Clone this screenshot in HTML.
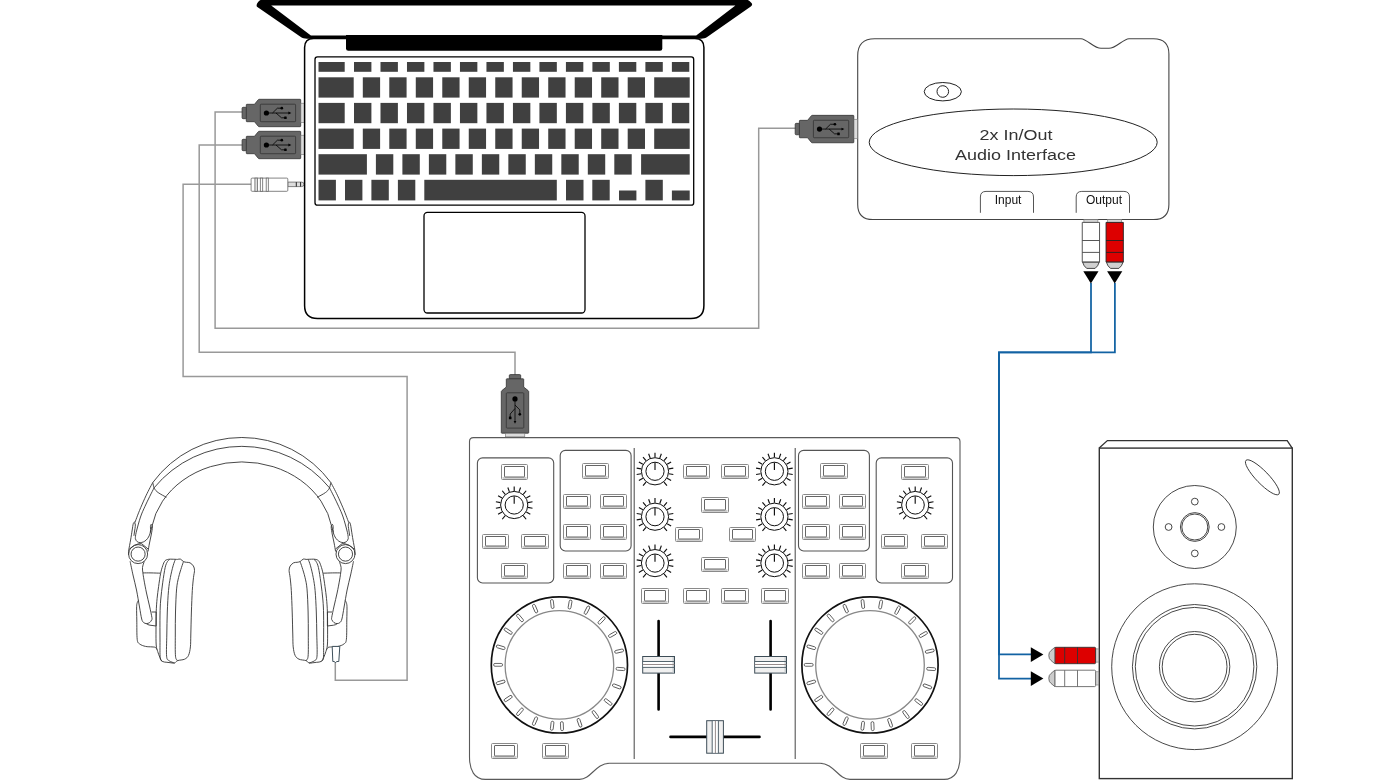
<!DOCTYPE html><html><head><meta charset="utf-8"><style>html,body{margin:0;padding:0;background:#fff}body{width:1380px;height:780px;overflow:hidden}svg{display:block}svg text{font-family:"Liberation Sans",sans-serif}svg{will-change:transform}</style></head><body>
<svg width="1380" height="780" viewBox="0 0 1380 780" font-family="&quot;Liberation Sans&quot;, sans-serif">
<g fill="none" stroke="#999" stroke-width="1.5">
<path d="M243,112 L215.1,112 L215.1,328.2 L758.7,328.2 L758.7,128.3 L796,128.3"/>
<path d="M243,145 L199.2,145 L199.2,352.3 L515,352.3 L515,376"/>
<path d="M252,184.3 L183.1,184.3 L183.1,376.4 L407.1,376.4 L407.1,680.3 L335.3,680.3 L335.3,662"/>
</g>
<g fill="none" stroke="#1262a3" stroke-width="1.75">
<path d="M1091,283 L1091,352.4 L999,352.4 L999,654.4 L1031,654.4"/>
<path d="M1114.9,283 L1114.9,352.4 L999,352.4 L999,678.5 L1031,678.5"/>
</g>
<g transform="translate(300.7,113) rotate(0)"><rect x="-58.6" y="-5.7" width="4.6" height="11.4" rx="1" fill="#666" stroke="#333" stroke-width="0.8"/><path d="M-54.4,-8.1 Q-54.4,-8.7 -53.8,-8.7 L-46.2,-8.7 L-42.6,-13.1 Q-42.2,-13.7 -41.6,-13.7 L-0.6,-13.7 Q0,-13.7 0,-13.1 L0,13.1 Q0,13.7 -0.6,13.7 L-41.6,13.7 Q-42.2,13.7 -42.6,13.1 L-46.2,8.7 L-53.8,8.7 Q-54.4,8.7 -54.4,8.1 Z" fill="#666" stroke="#333" stroke-width="0.8"/><rect x="-40.4" y="-8.8" width="35.3" height="17.5" rx="0.8" fill="#666" stroke="#333" stroke-width="0.8"/><rect x="0.2" y="-9.8" width="3.4" height="19.5" fill="#ddd" stroke="#777" stroke-width="0.6"/><circle cx="-34.3" cy="0" r="2.6" fill="#000"/><path d="M-34.3,0 L-11.5,0 M-28.2,0 L-23.3,-4.8 L-19.5,-4.8 M-24.7,0 L-19.2,4.8 L-16.2,4.8" fill="none" stroke="#000" stroke-width="0.8"/><circle cx="-18.9" cy="-4.8" r="1.35" fill="#000"/><rect x="-16.6" y="3.5" width="2.6" height="2.6" rx="0.5" fill="#000"/><path d="M-12.3,-1.4 L-9.4,0 L-12.3,1.4 Z" fill="#000"/></g>
<g transform="translate(300.7,145) rotate(0)"><rect x="-58.6" y="-5.7" width="4.6" height="11.4" rx="1" fill="#666" stroke="#333" stroke-width="0.8"/><path d="M-54.4,-8.1 Q-54.4,-8.7 -53.8,-8.7 L-46.2,-8.7 L-42.6,-13.1 Q-42.2,-13.7 -41.6,-13.7 L-0.6,-13.7 Q0,-13.7 0,-13.1 L0,13.1 Q0,13.7 -0.6,13.7 L-41.6,13.7 Q-42.2,13.7 -42.6,13.1 L-46.2,8.7 L-53.8,8.7 Q-54.4,8.7 -54.4,8.1 Z" fill="#666" stroke="#333" stroke-width="0.8"/><rect x="-40.4" y="-8.8" width="35.3" height="17.5" rx="0.8" fill="#666" stroke="#333" stroke-width="0.8"/><rect x="0.2" y="-9.8" width="3.4" height="19.5" fill="#ddd" stroke="#777" stroke-width="0.6"/><circle cx="-34.3" cy="0" r="2.6" fill="#000"/><path d="M-34.3,0 L-11.5,0 M-28.2,0 L-23.3,-4.8 L-19.5,-4.8 M-24.7,0 L-19.2,4.8 L-16.2,4.8" fill="none" stroke="#000" stroke-width="0.8"/><circle cx="-18.9" cy="-4.8" r="1.35" fill="#000"/><rect x="-16.6" y="3.5" width="2.6" height="2.6" rx="0.5" fill="#000"/><path d="M-12.3,-1.4 L-9.4,0 L-12.3,1.4 Z" fill="#000"/></g>
<g stroke="#666" stroke-width="0.8">
<path d="M287.8,182.1 L301.5,182.1 Q304,182.1 304,184.35 Q304,186.6 301.5,186.6 L287.8,186.6 Z" fill="#ddd"/>
<rect x="251.1" y="178.1" width="36.7" height="13.2" rx="1" fill="#fff"/>
<rect x="254.9" y="178.1" width="2.6" height="13.2" fill="#ddd"/>
<rect x="260.3" y="178.1" width="2.4" height="13.2" fill="#fff"/>
<rect x="266.2" y="178.1" width="2.1" height="13.2" fill="#fff"/>
</g>
<path d="M296.3,182.1 L296.3,186.6 M300.6,182.1 L300.6,186.6" stroke="#222" stroke-width="1"/>
<path fill-rule="evenodd" fill="#000" d="M257,6.8 C256,5.5 257,3 259,1 C261,-0.6 263,-1 265,-1 L744,-1 C747,-1 749,0.5 751,2.5 C752.8,4.2 752.3,5.5 750.8,6.6 L707.5,36.8 C705.5,38.2 703.5,38.7 701,38.7 L307,38.7 C304.5,38.7 302.5,38.2 300.5,36.8 Z M271.2,5.4 L735.4,5.4 L696.2,35.6 L310.9,35.6 Z"/>
<path fill="#000" d="M346,35 L662.3,35 L662.3,48.6 Q662.3,50.8 660,50.8 L348.3,50.8 Q346,50.8 346,48.6 Z"/>
<path fill="none" stroke="#000" stroke-width="1.5" d="M313.6,38.6 L694.9,38.6 Q703.9,38.6 703.9,47.6 L703.9,305.4 Q703.9,318.4 690.9,318.4 L317.6,318.4 Q304.6,318.4 304.6,305.4 L304.6,47.6 Q304.6,38.6 313.6,38.6 Z"/>
<rect x="315" y="56.9" width="378.7" height="148.3" rx="2.5" fill="none" stroke="#000" stroke-width="1.3"/>
<g fill="#404040"><rect x="318.50" y="62.00" width="26.20" height="9.80"/><rect x="354.00" y="62.00" width="17.40" height="9.80"/><rect x="380.49" y="62.00" width="17.40" height="9.80"/><rect x="406.98" y="62.00" width="17.40" height="9.80"/><rect x="433.47" y="62.00" width="17.40" height="9.80"/><rect x="459.96" y="62.00" width="17.40" height="9.80"/><rect x="486.45" y="62.00" width="17.40" height="9.80"/><rect x="512.94" y="62.00" width="17.40" height="9.80"/><rect x="539.43" y="62.00" width="17.40" height="9.80"/><rect x="565.92" y="62.00" width="17.40" height="9.80"/><rect x="592.41" y="62.00" width="17.40" height="9.80"/><rect x="618.90" y="62.00" width="17.40" height="9.80"/><rect x="645.39" y="62.00" width="17.40" height="9.80"/><rect x="671.88" y="62.00" width="17.40" height="9.80"/><rect x="318.50" y="77.30" width="35.20" height="20.30"/><rect x="362.80" y="77.30" width="17.30" height="20.30"/><rect x="389.29" y="77.30" width="17.30" height="20.30"/><rect x="415.78" y="77.30" width="17.30" height="20.30"/><rect x="442.27" y="77.30" width="17.30" height="20.30"/><rect x="468.76" y="77.30" width="17.30" height="20.30"/><rect x="495.25" y="77.30" width="17.30" height="20.30"/><rect x="521.74" y="77.30" width="17.30" height="20.30"/><rect x="548.23" y="77.30" width="17.30" height="20.30"/><rect x="574.72" y="77.30" width="17.30" height="20.30"/><rect x="601.21" y="77.30" width="17.30" height="20.30"/><rect x="627.70" y="77.30" width="17.30" height="20.30"/><rect x="654.20" y="77.30" width="35.50" height="20.30"/><rect x="318.50" y="102.90" width="26.20" height="20.30"/><rect x="354.00" y="102.90" width="17.40" height="20.30"/><rect x="380.49" y="102.90" width="17.40" height="20.30"/><rect x="406.98" y="102.90" width="17.40" height="20.30"/><rect x="433.47" y="102.90" width="17.40" height="20.30"/><rect x="459.96" y="102.90" width="17.40" height="20.30"/><rect x="486.45" y="102.90" width="17.40" height="20.30"/><rect x="512.94" y="102.90" width="17.40" height="20.30"/><rect x="539.43" y="102.90" width="17.40" height="20.30"/><rect x="565.92" y="102.90" width="17.40" height="20.30"/><rect x="592.41" y="102.90" width="17.40" height="20.30"/><rect x="618.90" y="102.90" width="17.40" height="20.30"/><rect x="645.39" y="102.90" width="17.40" height="20.30"/><rect x="671.88" y="102.90" width="17.40" height="20.30"/><rect x="318.50" y="128.60" width="35.20" height="20.30"/><rect x="362.80" y="128.60" width="17.30" height="20.30"/><rect x="389.29" y="128.60" width="17.30" height="20.30"/><rect x="415.78" y="128.60" width="17.30" height="20.30"/><rect x="442.27" y="128.60" width="17.30" height="20.30"/><rect x="468.76" y="128.60" width="17.30" height="20.30"/><rect x="495.25" y="128.60" width="17.30" height="20.30"/><rect x="521.74" y="128.60" width="17.30" height="20.30"/><rect x="548.23" y="128.60" width="17.30" height="20.30"/><rect x="574.72" y="128.60" width="17.30" height="20.30"/><rect x="601.21" y="128.60" width="17.30" height="20.30"/><rect x="627.70" y="128.60" width="17.30" height="20.30"/><rect x="654.20" y="128.60" width="35.50" height="20.30"/><rect x="318.50" y="154.20" width="48.40" height="20.40"/><rect x="375.90" y="154.20" width="17.40" height="20.40"/><rect x="402.39" y="154.20" width="17.40" height="20.40"/><rect x="428.88" y="154.20" width="17.40" height="20.40"/><rect x="455.37" y="154.20" width="17.40" height="20.40"/><rect x="481.86" y="154.20" width="17.40" height="20.40"/><rect x="508.35" y="154.20" width="17.40" height="20.40"/><rect x="534.84" y="154.20" width="17.40" height="20.40"/><rect x="561.33" y="154.20" width="17.40" height="20.40"/><rect x="587.82" y="154.20" width="17.40" height="20.40"/><rect x="614.31" y="154.20" width="17.40" height="20.40"/><rect x="641.10" y="154.20" width="48.60" height="20.40"/><rect x="318.50" y="179.80" width="17.40" height="20.60"/><rect x="345.00" y="179.80" width="17.40" height="20.60"/><rect x="371.40" y="179.80" width="17.40" height="20.60"/><rect x="397.90" y="179.80" width="17.40" height="20.60"/><rect x="424.30" y="179.80" width="132.50" height="20.60"/><rect x="566.00" y="179.80" width="17.50" height="20.60"/><rect x="592.30" y="179.80" width="17.40" height="20.60"/><rect x="619.00" y="190.50" width="17.40" height="9.90"/><rect x="645.40" y="179.80" width="17.40" height="20.60"/><rect x="671.90" y="190.50" width="17.80" height="9.90"/></g>
<rect x="424" y="212.4" width="161" height="100.6" rx="3.5" fill="none" stroke="#000" stroke-width="1.3"/>
<path fill="#fff" stroke="#444" stroke-width="1.1" d="M874.7,38.7 L1081,38.7 C1087,39 1094,48.3 1101,48.3 L1109,48.3 C1116,48.3 1123,39 1129,38.7 L1153.5,38.7 Q1168.9,38.7 1168.9,54 L1168.9,204.4 Q1168.9,219.5 1153.5,219.5 L873,219.5 Q857.7,219.5 857.7,204.4 L857.7,55.7 Q857.7,38.7 874.7,38.7 Z"/>
<ellipse cx="942.8" cy="91.7" rx="18.6" ry="9.2" fill="none" stroke="#222" stroke-width="1"/>
<circle cx="942.8" cy="91.5" r="5.8" fill="none" stroke="#222" stroke-width="1"/>
<ellipse cx="1013.2" cy="142.3" rx="144" ry="33.3" fill="none" stroke="#222" stroke-width="1"/>
<text x="1016" y="139.8" font-size="15.2" fill="#333" text-anchor="middle" textLength="72.8" lengthAdjust="spacingAndGlyphs">2x In/Out</text>
<text x="1015.5" y="159.8" font-size="15.2" fill="#333" text-anchor="middle" textLength="120.8" lengthAdjust="spacingAndGlyphs">Audio Interface</text>
<path d="M980.4,212.8 L980.4,197 Q980.4,191.4 986,191.4 L1027.9,191.4 Q1033.5,191.4 1033.5,197 L1033.5,212.8 M1076.2,212.8 L1076.2,197 Q1076.2,191.4 1081.8,191.4 L1123.9,191.4 Q1129.5,191.4 1129.5,197 L1129.5,212.8" fill="none" stroke="#555" stroke-width="1"/>
<text x="1008.1" y="203.6" font-size="12" fill="#111" text-anchor="middle">Input</text>
<text x="1104" y="203.6" font-size="12" fill="#111" text-anchor="middle">Output</text>
<g transform="translate(853.8,129.05) rotate(0)"><rect x="-58.6" y="-5.7" width="4.6" height="11.4" rx="1" fill="#666" stroke="#333" stroke-width="0.8"/><path d="M-54.4,-8.1 Q-54.4,-8.7 -53.8,-8.7 L-46.2,-8.7 L-42.6,-13.1 Q-42.2,-13.7 -41.6,-13.7 L-0.6,-13.7 Q0,-13.7 0,-13.1 L0,13.1 Q0,13.7 -0.6,13.7 L-41.6,13.7 Q-42.2,13.7 -42.6,13.1 L-46.2,8.7 L-53.8,8.7 Q-54.4,8.7 -54.4,8.1 Z" fill="#666" stroke="#333" stroke-width="0.8"/><rect x="-40.4" y="-8.8" width="35.3" height="17.5" rx="0.8" fill="#666" stroke="#333" stroke-width="0.8"/><rect x="0.2" y="-9.8" width="3.4" height="19.5" fill="#ddd" stroke="#777" stroke-width="0.6"/><circle cx="-34.3" cy="0" r="2.6" fill="#000"/><path d="M-34.3,0 L-11.5,0 M-28.2,0 L-23.3,-4.8 L-19.5,-4.8 M-24.7,0 L-19.2,4.8 L-16.2,4.8" fill="none" stroke="#000" stroke-width="0.8"/><circle cx="-18.9" cy="-4.8" r="1.35" fill="#000"/><rect x="-16.6" y="3.5" width="2.6" height="2.6" rx="0.5" fill="#000"/><path d="M-12.3,-1.4 L-9.4,0 L-12.3,1.4 Z" fill="#000"/></g>
<rect x="1083.9" y="219.6" width="14" height="2.8" fill="#d4d4d4" stroke="#777" stroke-width="0.6"/><path d="M1082.25,222.4 L1099.55,222.4 L1099.55,262.1 L1082.25,262.1 Z" fill="#fff" stroke="#444" stroke-width="0.9"/><path d="M1082.25,240.5 L1099.55,240.5 M1082.25,252.4 L1099.55,252.4" stroke="#444" stroke-width="0.9"/><path d="M1082.60,262.2 L1099.20,262.2 Q1098.10,266.2 1095.10,268.4 L1086.70,268.4 Q1083.70,266.2 1082.60,262.2 Z" fill="#d0d0d0" stroke="#333" stroke-width="0.9" stroke-linejoin="round"/><path d="M1083.30,271.3 L1098.50,271.3 L1090.90,283.5 Z" fill="#000"/>
<rect x="1107.7" y="219.6" width="14" height="2.8" fill="#d4d4d4" stroke="#777" stroke-width="0.6"/><path d="M1106.05,222.4 L1123.35,222.4 L1123.35,262.1 L1106.05,262.1 Z" fill="#dd0000" stroke="#222" stroke-width="0.9"/><path d="M1106.05,240.5 L1123.35,240.5 M1106.05,252.4 L1123.35,252.4" stroke="#222" stroke-width="0.9"/><path d="M1106.40,262.2 L1123.00,262.2 Q1121.90,266.2 1118.90,268.4 L1110.50,268.4 Q1107.50,266.2 1106.40,262.2 Z" fill="#d0d0d0" stroke="#333" stroke-width="0.9" stroke-linejoin="round"/><path d="M1107.10,271.3 L1122.30,271.3 L1114.70,283.5 Z" fill="#000"/>
<path d="M1099.2,448.1 L1107.4,440.6 L1287.2,440.6 L1292.2,448.1" fill="none" stroke="#333" stroke-width="1.3"/>
<rect x="1099.3" y="448.1" width="193" height="330.5" fill="#fff" stroke="#333" stroke-width="1.4"/>
<g fill="none" stroke="#333" stroke-width="0.9">
<ellipse cx="1262.4" cy="477.3" rx="23.6" ry="6.2" transform="rotate(46 1262.4 477.3)"/>
<circle cx="1194.8" cy="527" r="41.5"/>
<circle cx="1194.8" cy="527" r="14.4"/><circle cx="1194.8" cy="527" r="13"/>
<circle cx="1194.8" cy="501.6" r="3.4"/><circle cx="1194.8" cy="553.4" r="3.4"/><circle cx="1168.6" cy="527" r="3.4"/><circle cx="1221.4" cy="527" r="3.4"/>
<circle cx="1194.6" cy="666.7" r="82.9"/>
<circle cx="1194.6" cy="666.7" r="62.2"/><circle cx="1194.6" cy="666.7" r="59.3"/>
<circle cx="1194.6" cy="666.7" r="35.2"/><circle cx="1194.6" cy="666.7" r="32.4"/>
</g>
<rect x="1095.6" y="648.9" width="3.2" height="13.2" fill="#d4d4d4" stroke="#777" stroke-width="0.6"/><rect x="1054.8" y="647.3" width="40.8" height="16.4" rx="1" fill="#dd0000" stroke="#333" stroke-width="0.9"/><path d="M1064.7,647.3 L1064.7,663.7 M1077.5,647.3 L1077.5,663.7" stroke="#333" stroke-width="0.9"/><path d="M1054.8,647.3 L1054.8,663.7 L1051,660.5 Q1048.8,659.0 1048.8,655.5 Q1048.8,652.0 1051,650.5 Z" fill="#ccc" stroke="#555" stroke-width="0.8"/><path d="M1030.8,647.3 L1043.4,654.6 L1030.8,661.9 Z" fill="#000"/>
<rect x="1095.6" y="671.8" width="3.2" height="13.2" fill="#d4d4d4" stroke="#777" stroke-width="0.6"/><rect x="1054.8" y="670.2" width="40.8" height="16.4" rx="1" fill="#fff" stroke="#666" stroke-width="0.9"/><path d="M1064.7,670.2 L1064.7,686.6 M1077.5,670.2 L1077.5,686.6" stroke="#666" stroke-width="0.9"/><path d="M1054.8,670.2 L1054.8,686.6 L1051,683.4 Q1048.8,681.9 1048.8,678.4 Q1048.8,674.9 1051,673.4 Z" fill="#ccc" stroke="#555" stroke-width="0.8"/><path d="M1030.8,671.3 L1043.4,678.6 L1030.8,685.9 Z" fill="#000"/>
<path fill="#fff" stroke="#5a5a5a" stroke-width="1.1" d="M473.5,437.6 L956,437.6 Q960,437.6 960,441.6 L960,757 C960,770 955,779.4 944,779.4 L850,779.4 C838,779.4 834,763.2 820,763.2 L609.4,763.2 C595.4,763.2 591.4,779.4 579.4,779.4 L485.4,779.4 C474.4,779.4 469.5,770 469.5,757 L469.5,441.6 Q469.5,437.6 473.5,437.6 Z"/>
<path d="M634.2,448 L634.2,759 M795.2,448 L795.2,759" stroke="#555" stroke-width="1.1"/>
<g fill="none" stroke="#555" stroke-width="1.1">
<rect x="477.4" y="457.9" width="76.3" height="125.1" rx="5.2"/>
<rect x="560.2" y="450.4" width="70.9" height="100.6" rx="5.2"/>
<rect x="798.5" y="450.4" width="70.9" height="100.6" rx="5.2"/>
<rect x="876.2" y="457.9" width="76.3" height="125.1" rx="5.2"/>
</g>
<rect x="501.5" y="464.5" width="26.0" height="15.0" rx="1" fill="#fff" stroke="#8a8a8a" stroke-width="1"/><rect x="502.5" y="477.0" width="24.0" height="2" fill="#cfcfcf"/><rect x="504.5" y="466.5" width="20.0" height="10.5" rx="0.5" fill="#fff" stroke="#555" stroke-width="0.9"/><rect x="482.5" y="534.5" width="26.0" height="14.0" rx="1" fill="#fff" stroke="#8a8a8a" stroke-width="1"/><rect x="483.5" y="546.0" width="24.0" height="2" fill="#cfcfcf"/><rect x="485.5" y="536.5" width="20.0" height="9.5" rx="0.5" fill="#fff" stroke="#555" stroke-width="0.9"/><rect x="521.5" y="534.5" width="27.0" height="14.0" rx="1" fill="#fff" stroke="#8a8a8a" stroke-width="1"/><rect x="522.5" y="546.0" width="25.0" height="2" fill="#cfcfcf"/><rect x="524.5" y="536.5" width="21.0" height="9.5" rx="0.5" fill="#fff" stroke="#555" stroke-width="0.9"/><rect x="501.5" y="563.5" width="26.0" height="15.0" rx="1" fill="#fff" stroke="#8a8a8a" stroke-width="1"/><rect x="502.5" y="576.0" width="24.0" height="2" fill="#cfcfcf"/><rect x="504.5" y="565.5" width="20.0" height="10.5" rx="0.5" fill="#fff" stroke="#555" stroke-width="0.9"/><rect x="582.5" y="463.5" width="26.0" height="15.0" rx="1" fill="#fff" stroke="#8a8a8a" stroke-width="1"/><rect x="583.5" y="476.0" width="24.0" height="2" fill="#cfcfcf"/><rect x="585.5" y="465.5" width="20.0" height="10.5" rx="0.5" fill="#fff" stroke="#555" stroke-width="0.9"/><rect x="563.5" y="494.5" width="27.0" height="14.0" rx="1" fill="#fff" stroke="#8a8a8a" stroke-width="1"/><rect x="564.5" y="506.0" width="25.0" height="2" fill="#cfcfcf"/><rect x="566.5" y="496.5" width="21.0" height="9.5" rx="0.5" fill="#fff" stroke="#555" stroke-width="0.9"/><rect x="600.5" y="494.5" width="26.0" height="14.0" rx="1" fill="#fff" stroke="#8a8a8a" stroke-width="1"/><rect x="601.5" y="506.0" width="24.0" height="2" fill="#cfcfcf"/><rect x="603.5" y="496.5" width="20.0" height="9.5" rx="0.5" fill="#fff" stroke="#555" stroke-width="0.9"/><rect x="563.5" y="524.5" width="27.0" height="15.0" rx="1" fill="#fff" stroke="#8a8a8a" stroke-width="1"/><rect x="564.5" y="537.0" width="25.0" height="2" fill="#cfcfcf"/><rect x="566.5" y="526.5" width="21.0" height="10.5" rx="0.5" fill="#fff" stroke="#555" stroke-width="0.9"/><rect x="600.5" y="524.5" width="26.0" height="15.0" rx="1" fill="#fff" stroke="#8a8a8a" stroke-width="1"/><rect x="601.5" y="537.0" width="24.0" height="2" fill="#cfcfcf"/><rect x="603.5" y="526.5" width="20.0" height="10.5" rx="0.5" fill="#fff" stroke="#555" stroke-width="0.9"/><rect x="563.5" y="563.5" width="27.0" height="15.0" rx="1" fill="#fff" stroke="#8a8a8a" stroke-width="1"/><rect x="564.5" y="576.0" width="25.0" height="2" fill="#cfcfcf"/><rect x="566.5" y="565.5" width="21.0" height="10.5" rx="0.5" fill="#fff" stroke="#555" stroke-width="0.9"/><rect x="600.5" y="563.5" width="26.0" height="15.0" rx="1" fill="#fff" stroke="#8a8a8a" stroke-width="1"/><rect x="601.5" y="576.0" width="24.0" height="2" fill="#cfcfcf"/><rect x="603.5" y="565.5" width="20.0" height="10.5" rx="0.5" fill="#fff" stroke="#555" stroke-width="0.9"/><rect x="683.5" y="464.5" width="26.0" height="14.0" rx="1" fill="#fff" stroke="#8a8a8a" stroke-width="1"/><rect x="684.5" y="476.0" width="24.0" height="2" fill="#cfcfcf"/><rect x="686.5" y="466.5" width="20.0" height="9.5" rx="0.5" fill="#fff" stroke="#555" stroke-width="0.9"/><rect x="721.5" y="464.5" width="27.0" height="14.0" rx="1" fill="#fff" stroke="#8a8a8a" stroke-width="1"/><rect x="722.5" y="476.0" width="25.0" height="2" fill="#cfcfcf"/><rect x="724.5" y="466.5" width="21.0" height="9.5" rx="0.5" fill="#fff" stroke="#555" stroke-width="0.9"/><rect x="701.5" y="497.5" width="27.0" height="15.0" rx="1" fill="#fff" stroke="#8a8a8a" stroke-width="1"/><rect x="702.5" y="510.0" width="25.0" height="2" fill="#cfcfcf"/><rect x="704.5" y="499.5" width="21.0" height="10.5" rx="0.5" fill="#fff" stroke="#555" stroke-width="0.9"/><rect x="675.5" y="527.5" width="27.0" height="14.0" rx="1" fill="#fff" stroke="#8a8a8a" stroke-width="1"/><rect x="676.5" y="539.0" width="25.0" height="2" fill="#cfcfcf"/><rect x="678.5" y="529.5" width="21.0" height="9.5" rx="0.5" fill="#fff" stroke="#555" stroke-width="0.9"/><rect x="729.5" y="527.5" width="26.0" height="14.0" rx="1" fill="#fff" stroke="#8a8a8a" stroke-width="1"/><rect x="730.5" y="539.0" width="24.0" height="2" fill="#cfcfcf"/><rect x="732.5" y="529.5" width="20.0" height="9.5" rx="0.5" fill="#fff" stroke="#555" stroke-width="0.9"/><rect x="701.5" y="557.5" width="27.0" height="14.0" rx="1" fill="#fff" stroke="#8a8a8a" stroke-width="1"/><rect x="702.5" y="569.0" width="25.0" height="2" fill="#cfcfcf"/><rect x="704.5" y="559.5" width="21.0" height="9.5" rx="0.5" fill="#fff" stroke="#555" stroke-width="0.9"/><rect x="641.5" y="588.5" width="27.0" height="15.0" rx="1" fill="#fff" stroke="#8a8a8a" stroke-width="1"/><rect x="642.5" y="601.0" width="25.0" height="2" fill="#cfcfcf"/><rect x="644.5" y="590.5" width="21.0" height="10.5" rx="0.5" fill="#fff" stroke="#555" stroke-width="0.9"/><rect x="683.5" y="588.5" width="26.0" height="15.0" rx="1" fill="#fff" stroke="#8a8a8a" stroke-width="1"/><rect x="684.5" y="601.0" width="24.0" height="2" fill="#cfcfcf"/><rect x="686.5" y="590.5" width="20.0" height="10.5" rx="0.5" fill="#fff" stroke="#555" stroke-width="0.9"/><rect x="721.5" y="588.5" width="27.0" height="15.0" rx="1" fill="#fff" stroke="#8a8a8a" stroke-width="1"/><rect x="722.5" y="601.0" width="25.0" height="2" fill="#cfcfcf"/><rect x="724.5" y="590.5" width="21.0" height="10.5" rx="0.5" fill="#fff" stroke="#555" stroke-width="0.9"/><rect x="761.5" y="588.5" width="27.0" height="15.0" rx="1" fill="#fff" stroke="#8a8a8a" stroke-width="1"/><rect x="762.5" y="601.0" width="25.0" height="2" fill="#cfcfcf"/><rect x="764.5" y="590.5" width="21.0" height="10.5" rx="0.5" fill="#fff" stroke="#555" stroke-width="0.9"/><rect x="491.5" y="743.5" width="26.0" height="15.0" rx="1" fill="#fff" stroke="#8a8a8a" stroke-width="1"/><rect x="492.5" y="756.0" width="24.0" height="2" fill="#cfcfcf"/><rect x="494.5" y="745.5" width="20.0" height="10.5" rx="0.5" fill="#fff" stroke="#555" stroke-width="0.9"/><rect x="542.5" y="743.5" width="26.0" height="15.0" rx="1" fill="#fff" stroke="#8a8a8a" stroke-width="1"/><rect x="543.5" y="756.0" width="24.0" height="2" fill="#cfcfcf"/><rect x="545.5" y="745.5" width="20.0" height="10.5" rx="0.5" fill="#fff" stroke="#555" stroke-width="0.9"/><rect x="860.5" y="743.5" width="27.0" height="15.0" rx="1" fill="#fff" stroke="#8a8a8a" stroke-width="1"/><rect x="861.5" y="756.0" width="25.0" height="2" fill="#cfcfcf"/><rect x="863.5" y="745.5" width="21.0" height="10.5" rx="0.5" fill="#fff" stroke="#555" stroke-width="0.9"/><rect x="911.5" y="743.5" width="26.0" height="15.0" rx="1" fill="#fff" stroke="#8a8a8a" stroke-width="1"/><rect x="912.5" y="756.0" width="24.0" height="2" fill="#cfcfcf"/><rect x="914.5" y="745.5" width="20.0" height="10.5" rx="0.5" fill="#fff" stroke="#555" stroke-width="0.9"/><rect x="901.5" y="464.5" width="27.0" height="15.0" rx="1" fill="#fff" stroke="#8a8a8a" stroke-width="1"/><rect x="902.5" y="477.0" width="25.0" height="2" fill="#cfcfcf"/><rect x="904.5" y="466.5" width="21.0" height="10.5" rx="0.5" fill="#fff" stroke="#555" stroke-width="0.9"/><rect x="921.5" y="534.5" width="26.0" height="14.0" rx="1" fill="#fff" stroke="#8a8a8a" stroke-width="1"/><rect x="922.5" y="546.0" width="24.0" height="2" fill="#cfcfcf"/><rect x="924.5" y="536.5" width="20.0" height="9.5" rx="0.5" fill="#fff" stroke="#555" stroke-width="0.9"/><rect x="881.5" y="534.5" width="26.0" height="14.0" rx="1" fill="#fff" stroke="#8a8a8a" stroke-width="1"/><rect x="882.5" y="546.0" width="24.0" height="2" fill="#cfcfcf"/><rect x="884.5" y="536.5" width="20.0" height="9.5" rx="0.5" fill="#fff" stroke="#555" stroke-width="0.9"/><rect x="901.5" y="563.5" width="27.0" height="15.0" rx="1" fill="#fff" stroke="#8a8a8a" stroke-width="1"/><rect x="902.5" y="576.0" width="25.0" height="2" fill="#cfcfcf"/><rect x="904.5" y="565.5" width="21.0" height="10.5" rx="0.5" fill="#fff" stroke="#555" stroke-width="0.9"/><rect x="820.5" y="463.5" width="27.0" height="15.0" rx="1" fill="#fff" stroke="#8a8a8a" stroke-width="1"/><rect x="821.5" y="476.0" width="25.0" height="2" fill="#cfcfcf"/><rect x="823.5" y="465.5" width="21.0" height="10.5" rx="0.5" fill="#fff" stroke="#555" stroke-width="0.9"/><rect x="839.5" y="494.5" width="26.0" height="14.0" rx="1" fill="#fff" stroke="#8a8a8a" stroke-width="1"/><rect x="840.5" y="506.0" width="24.0" height="2" fill="#cfcfcf"/><rect x="842.5" y="496.5" width="20.0" height="9.5" rx="0.5" fill="#fff" stroke="#555" stroke-width="0.9"/><rect x="802.5" y="494.5" width="27.0" height="14.0" rx="1" fill="#fff" stroke="#8a8a8a" stroke-width="1"/><rect x="803.5" y="506.0" width="25.0" height="2" fill="#cfcfcf"/><rect x="805.5" y="496.5" width="21.0" height="9.5" rx="0.5" fill="#fff" stroke="#555" stroke-width="0.9"/><rect x="839.5" y="524.5" width="26.0" height="15.0" rx="1" fill="#fff" stroke="#8a8a8a" stroke-width="1"/><rect x="840.5" y="537.0" width="24.0" height="2" fill="#cfcfcf"/><rect x="842.5" y="526.5" width="20.0" height="10.5" rx="0.5" fill="#fff" stroke="#555" stroke-width="0.9"/><rect x="802.5" y="524.5" width="27.0" height="15.0" rx="1" fill="#fff" stroke="#8a8a8a" stroke-width="1"/><rect x="803.5" y="537.0" width="25.0" height="2" fill="#cfcfcf"/><rect x="805.5" y="526.5" width="21.0" height="10.5" rx="0.5" fill="#fff" stroke="#555" stroke-width="0.9"/><rect x="839.5" y="563.5" width="26.0" height="15.0" rx="1" fill="#fff" stroke="#8a8a8a" stroke-width="1"/><rect x="840.5" y="576.0" width="24.0" height="2" fill="#cfcfcf"/><rect x="842.5" y="565.5" width="20.0" height="10.5" rx="0.5" fill="#fff" stroke="#555" stroke-width="0.9"/><rect x="802.5" y="563.5" width="27.0" height="15.0" rx="1" fill="#fff" stroke="#8a8a8a" stroke-width="1"/><rect x="803.5" y="576.0" width="25.0" height="2" fill="#cfcfcf"/><rect x="805.5" y="565.5" width="21.0" height="10.5" rx="0.5" fill="#fff" stroke="#555" stroke-width="0.9"/>
<circle cx="514.2" cy="505.0" r="13.6" fill="#fff" stroke="#111" stroke-width="1"/><circle cx="514.2" cy="505.0" r="9.1" fill="#fff" stroke="#111" stroke-width="1"/><path d="M505.20,515.72 L502.24,519.25 M502.08,512.00 L498.09,514.30 M500.41,507.43 L495.88,508.23 M500.41,502.57 L495.88,501.77 M502.08,498.00 L498.09,495.70 M505.20,494.28 L502.24,490.75 M509.41,491.84 L507.84,487.52 M514.20,491.00 L514.20,486.40 M518.99,491.84 L520.56,487.52 M523.20,494.28 L526.16,490.75 M526.32,498.00 L530.31,495.70 M527.99,502.57 L532.52,501.77 M527.99,507.43 L532.52,508.23 M526.32,512.00 L530.31,514.30 M523.20,515.72 L526.16,519.25 M514.20,496.20 L514.20,503.70" stroke="#111" stroke-width="1.15" fill="none"/>
<circle cx="915.2" cy="505.0" r="13.6" fill="#fff" stroke="#111" stroke-width="1"/><circle cx="915.2" cy="505.0" r="9.1" fill="#fff" stroke="#111" stroke-width="1"/><path d="M906.20,515.72 L903.24,519.25 M903.08,512.00 L899.09,514.30 M901.41,507.43 L896.88,508.23 M901.41,502.57 L896.88,501.77 M903.08,498.00 L899.09,495.70 M906.20,494.28 L903.24,490.75 M910.41,491.84 L908.84,487.52 M915.20,491.00 L915.20,486.40 M919.99,491.84 L921.56,487.52 M924.20,494.28 L927.16,490.75 M927.32,498.00 L931.31,495.70 M928.99,502.57 L933.52,501.77 M928.99,507.43 L933.52,508.23 M927.32,512.00 L931.31,514.30 M924.20,515.72 L927.16,519.25 M915.20,496.20 L915.20,503.70" stroke="#111" stroke-width="1.15" fill="none"/>
<circle cx="655.0" cy="471.3" r="13.6" fill="#fff" stroke="#111" stroke-width="1"/><circle cx="655.0" cy="471.3" r="9.1" fill="#fff" stroke="#111" stroke-width="1"/><path d="M646.00,482.02 L643.04,485.55 M642.88,478.30 L638.89,480.60 M641.21,473.73 L636.68,474.53 M641.21,468.87 L636.68,468.07 M642.88,464.30 L638.89,462.00 M646.00,460.58 L643.04,457.05 M650.21,458.14 L648.64,453.82 M655.00,457.30 L655.00,452.70 M659.79,458.14 L661.36,453.82 M664.00,460.58 L666.96,457.05 M667.12,464.30 L671.11,462.00 M668.79,468.87 L673.32,468.07 M668.79,473.73 L673.32,474.53 M667.12,478.30 L671.11,480.60 M664.00,482.02 L666.96,485.55 M655.00,462.50 L655.00,470.00" stroke="#111" stroke-width="1.15" fill="none"/>
<circle cx="655.0" cy="516.7" r="13.6" fill="#fff" stroke="#111" stroke-width="1"/><circle cx="655.0" cy="516.7" r="9.1" fill="#fff" stroke="#111" stroke-width="1"/><path d="M646.00,527.42 L643.04,530.95 M642.88,523.70 L638.89,526.00 M641.21,519.13 L636.68,519.93 M641.21,514.27 L636.68,513.47 M642.88,509.70 L638.89,507.40 M646.00,505.98 L643.04,502.45 M650.21,503.54 L648.64,499.22 M655.00,502.70 L655.00,498.10 M659.79,503.54 L661.36,499.22 M664.00,505.98 L666.96,502.45 M667.12,509.70 L671.11,507.40 M668.79,514.27 L673.32,513.47 M668.79,519.13 L673.32,519.93 M667.12,523.70 L671.11,526.00 M664.00,527.42 L666.96,530.95 M655.00,507.90 L655.00,515.40" stroke="#111" stroke-width="1.15" fill="none"/>
<circle cx="655.0" cy="563.1" r="13.6" fill="#fff" stroke="#111" stroke-width="1"/><circle cx="655.0" cy="563.1" r="9.1" fill="#fff" stroke="#111" stroke-width="1"/><path d="M646.00,573.82 L643.04,577.35 M642.88,570.10 L638.89,572.40 M641.21,565.53 L636.68,566.33 M641.21,560.67 L636.68,559.87 M642.88,556.10 L638.89,553.80 M646.00,552.38 L643.04,548.85 M650.21,549.94 L648.64,545.62 M655.00,549.10 L655.00,544.50 M659.79,549.94 L661.36,545.62 M664.00,552.38 L666.96,548.85 M667.12,556.10 L671.11,553.80 M668.79,560.67 L673.32,559.87 M668.79,565.53 L673.32,566.33 M667.12,570.10 L671.11,572.40 M664.00,573.82 L666.96,577.35 M655.00,554.30 L655.00,561.80" stroke="#111" stroke-width="1.15" fill="none"/>
<circle cx="774.4" cy="471.3" r="13.6" fill="#fff" stroke="#111" stroke-width="1"/><circle cx="774.4" cy="471.3" r="9.1" fill="#fff" stroke="#111" stroke-width="1"/><path d="M765.40,482.02 L762.44,485.55 M762.28,478.30 L758.29,480.60 M760.61,473.73 L756.08,474.53 M760.61,468.87 L756.08,468.07 M762.28,464.30 L758.29,462.00 M765.40,460.58 L762.44,457.05 M769.61,458.14 L768.04,453.82 M774.40,457.30 L774.40,452.70 M779.19,458.14 L780.76,453.82 M783.40,460.58 L786.36,457.05 M786.52,464.30 L790.51,462.00 M788.19,468.87 L792.72,468.07 M788.19,473.73 L792.72,474.53 M786.52,478.30 L790.51,480.60 M783.40,482.02 L786.36,485.55 M774.40,462.50 L774.40,470.00" stroke="#111" stroke-width="1.15" fill="none"/>
<circle cx="774.4" cy="516.7" r="13.6" fill="#fff" stroke="#111" stroke-width="1"/><circle cx="774.4" cy="516.7" r="9.1" fill="#fff" stroke="#111" stroke-width="1"/><path d="M765.40,527.42 L762.44,530.95 M762.28,523.70 L758.29,526.00 M760.61,519.13 L756.08,519.93 M760.61,514.27 L756.08,513.47 M762.28,509.70 L758.29,507.40 M765.40,505.98 L762.44,502.45 M769.61,503.54 L768.04,499.22 M774.40,502.70 L774.40,498.10 M779.19,503.54 L780.76,499.22 M783.40,505.98 L786.36,502.45 M786.52,509.70 L790.51,507.40 M788.19,514.27 L792.72,513.47 M788.19,519.13 L792.72,519.93 M786.52,523.70 L790.51,526.00 M783.40,527.42 L786.36,530.95 M774.40,507.90 L774.40,515.40" stroke="#111" stroke-width="1.15" fill="none"/>
<circle cx="774.4" cy="563.1" r="13.6" fill="#fff" stroke="#111" stroke-width="1"/><circle cx="774.4" cy="563.1" r="9.1" fill="#fff" stroke="#111" stroke-width="1"/><path d="M765.40,573.82 L762.44,577.35 M762.28,570.10 L758.29,572.40 M760.61,565.53 L756.08,566.33 M760.61,560.67 L756.08,559.87 M762.28,556.10 L758.29,553.80 M765.40,552.38 L762.44,548.85 M769.61,549.94 L768.04,545.62 M774.40,549.10 L774.40,544.50 M779.19,549.94 L780.76,545.62 M783.40,552.38 L786.36,548.85 M786.52,556.10 L790.51,553.80 M788.19,560.67 L792.72,559.87 M788.19,565.53 L792.72,566.33 M786.52,570.10 L790.51,572.40 M783.40,573.82 L786.36,577.35 M774.40,554.30 L774.40,561.80" stroke="#111" stroke-width="1.15" fill="none"/>
<circle cx="559.4" cy="664.9" r="68.1" fill="#fff" stroke="#111" stroke-width="1.7"/><circle cx="559.4" cy="664.9" r="54.3" fill="#fff" stroke="#888" stroke-width="1.3"/><rect x="-1.4" y="-65.8" width="2.8" height="9" rx="1.4" fill="#fff" stroke="#444" stroke-width="0.8" transform="translate(559.4,664.9) rotate(10.00)"/><rect x="-1.4" y="-65.8" width="2.8" height="9" rx="1.4" fill="#fff" stroke="#444" stroke-width="0.8" transform="translate(559.4,664.9) rotate(26.76)"/><rect x="-1.4" y="-65.8" width="2.8" height="9" rx="1.4" fill="#fff" stroke="#444" stroke-width="0.8" transform="translate(559.4,664.9) rotate(43.52)"/><rect x="-1.4" y="-65.8" width="2.8" height="9" rx="1.4" fill="#fff" stroke="#444" stroke-width="0.8" transform="translate(559.4,664.9) rotate(60.28)"/><rect x="-1.4" y="-65.8" width="2.8" height="9" rx="1.4" fill="#fff" stroke="#444" stroke-width="0.8" transform="translate(559.4,664.9) rotate(77.04)"/><rect x="-1.4" y="-65.8" width="2.8" height="9" rx="1.4" fill="#fff" stroke="#444" stroke-width="0.8" transform="translate(559.4,664.9) rotate(93.80)"/><rect x="-1.4" y="-65.8" width="2.8" height="9" rx="1.4" fill="#fff" stroke="#444" stroke-width="0.8" transform="translate(559.4,664.9) rotate(110.56)"/><rect x="-1.4" y="-65.8" width="2.8" height="9" rx="1.4" fill="#fff" stroke="#444" stroke-width="0.8" transform="translate(559.4,664.9) rotate(127.32)"/><rect x="-1.4" y="-65.8" width="2.8" height="9" rx="1.4" fill="#fff" stroke="#444" stroke-width="0.8" transform="translate(559.4,664.9) rotate(144.08)"/><rect x="-1.4" y="-65.8" width="2.8" height="9" rx="1.4" fill="#fff" stroke="#444" stroke-width="0.8" transform="translate(559.4,664.9) rotate(160.84)"/><rect x="-1.4" y="-65.8" width="2.8" height="9" rx="1.4" fill="#fff" stroke="#444" stroke-width="0.8" transform="translate(559.4,664.9) rotate(177.60)"/><rect x="-1.4" y="-65.8" width="2.8" height="9" rx="1.4" fill="#fff" stroke="#444" stroke-width="0.8" transform="translate(559.4,664.9) rotate(186.80)"/><rect x="-1.4" y="-65.8" width="2.8" height="9" rx="1.4" fill="#fff" stroke="#444" stroke-width="0.8" transform="translate(559.4,664.9) rotate(203.45)"/><rect x="-1.4" y="-65.8" width="2.8" height="9" rx="1.4" fill="#fff" stroke="#444" stroke-width="0.8" transform="translate(559.4,664.9) rotate(220.10)"/><rect x="-1.4" y="-65.8" width="2.8" height="9" rx="1.4" fill="#fff" stroke="#444" stroke-width="0.8" transform="translate(559.4,664.9) rotate(236.75)"/><rect x="-1.4" y="-65.8" width="2.8" height="9" rx="1.4" fill="#fff" stroke="#444" stroke-width="0.8" transform="translate(559.4,664.9) rotate(253.40)"/><rect x="-1.4" y="-65.8" width="2.8" height="9" rx="1.4" fill="#fff" stroke="#444" stroke-width="0.8" transform="translate(559.4,664.9) rotate(270.05)"/><rect x="-1.4" y="-65.8" width="2.8" height="9" rx="1.4" fill="#fff" stroke="#444" stroke-width="0.8" transform="translate(559.4,664.9) rotate(286.70)"/><rect x="-1.4" y="-65.8" width="2.8" height="9" rx="1.4" fill="#fff" stroke="#444" stroke-width="0.8" transform="translate(559.4,664.9) rotate(303.35)"/><rect x="-1.4" y="-65.8" width="2.8" height="9" rx="1.4" fill="#fff" stroke="#444" stroke-width="0.8" transform="translate(559.4,664.9) rotate(320.00)"/><rect x="-1.4" y="-65.8" width="2.8" height="9" rx="1.4" fill="#fff" stroke="#444" stroke-width="0.8" transform="translate(559.4,664.9) rotate(336.65)"/><rect x="-1.4" y="-65.8" width="2.8" height="9" rx="1.4" fill="#fff" stroke="#444" stroke-width="0.8" transform="translate(559.4,664.9) rotate(353.30)"/>
<circle cx="870.0" cy="664.9" r="68.1" fill="#fff" stroke="#111" stroke-width="1.7"/><circle cx="870.0" cy="664.9" r="54.3" fill="#fff" stroke="#888" stroke-width="1.3"/><rect x="-1.4" y="-65.8" width="2.8" height="9" rx="1.4" fill="#fff" stroke="#444" stroke-width="0.8" transform="translate(870.0,664.9) rotate(10.00)"/><rect x="-1.4" y="-65.8" width="2.8" height="9" rx="1.4" fill="#fff" stroke="#444" stroke-width="0.8" transform="translate(870.0,664.9) rotate(26.76)"/><rect x="-1.4" y="-65.8" width="2.8" height="9" rx="1.4" fill="#fff" stroke="#444" stroke-width="0.8" transform="translate(870.0,664.9) rotate(43.52)"/><rect x="-1.4" y="-65.8" width="2.8" height="9" rx="1.4" fill="#fff" stroke="#444" stroke-width="0.8" transform="translate(870.0,664.9) rotate(60.28)"/><rect x="-1.4" y="-65.8" width="2.8" height="9" rx="1.4" fill="#fff" stroke="#444" stroke-width="0.8" transform="translate(870.0,664.9) rotate(77.04)"/><rect x="-1.4" y="-65.8" width="2.8" height="9" rx="1.4" fill="#fff" stroke="#444" stroke-width="0.8" transform="translate(870.0,664.9) rotate(93.80)"/><rect x="-1.4" y="-65.8" width="2.8" height="9" rx="1.4" fill="#fff" stroke="#444" stroke-width="0.8" transform="translate(870.0,664.9) rotate(110.56)"/><rect x="-1.4" y="-65.8" width="2.8" height="9" rx="1.4" fill="#fff" stroke="#444" stroke-width="0.8" transform="translate(870.0,664.9) rotate(127.32)"/><rect x="-1.4" y="-65.8" width="2.8" height="9" rx="1.4" fill="#fff" stroke="#444" stroke-width="0.8" transform="translate(870.0,664.9) rotate(144.08)"/><rect x="-1.4" y="-65.8" width="2.8" height="9" rx="1.4" fill="#fff" stroke="#444" stroke-width="0.8" transform="translate(870.0,664.9) rotate(160.84)"/><rect x="-1.4" y="-65.8" width="2.8" height="9" rx="1.4" fill="#fff" stroke="#444" stroke-width="0.8" transform="translate(870.0,664.9) rotate(177.60)"/><rect x="-1.4" y="-65.8" width="2.8" height="9" rx="1.4" fill="#fff" stroke="#444" stroke-width="0.8" transform="translate(870.0,664.9) rotate(186.80)"/><rect x="-1.4" y="-65.8" width="2.8" height="9" rx="1.4" fill="#fff" stroke="#444" stroke-width="0.8" transform="translate(870.0,664.9) rotate(203.45)"/><rect x="-1.4" y="-65.8" width="2.8" height="9" rx="1.4" fill="#fff" stroke="#444" stroke-width="0.8" transform="translate(870.0,664.9) rotate(220.10)"/><rect x="-1.4" y="-65.8" width="2.8" height="9" rx="1.4" fill="#fff" stroke="#444" stroke-width="0.8" transform="translate(870.0,664.9) rotate(236.75)"/><rect x="-1.4" y="-65.8" width="2.8" height="9" rx="1.4" fill="#fff" stroke="#444" stroke-width="0.8" transform="translate(870.0,664.9) rotate(253.40)"/><rect x="-1.4" y="-65.8" width="2.8" height="9" rx="1.4" fill="#fff" stroke="#444" stroke-width="0.8" transform="translate(870.0,664.9) rotate(270.05)"/><rect x="-1.4" y="-65.8" width="2.8" height="9" rx="1.4" fill="#fff" stroke="#444" stroke-width="0.8" transform="translate(870.0,664.9) rotate(286.70)"/><rect x="-1.4" y="-65.8" width="2.8" height="9" rx="1.4" fill="#fff" stroke="#444" stroke-width="0.8" transform="translate(870.0,664.9) rotate(303.35)"/><rect x="-1.4" y="-65.8" width="2.8" height="9" rx="1.4" fill="#fff" stroke="#444" stroke-width="0.8" transform="translate(870.0,664.9) rotate(320.00)"/><rect x="-1.4" y="-65.8" width="2.8" height="9" rx="1.4" fill="#fff" stroke="#444" stroke-width="0.8" transform="translate(870.0,664.9) rotate(336.65)"/><rect x="-1.4" y="-65.8" width="2.8" height="9" rx="1.4" fill="#fff" stroke="#444" stroke-width="0.8" transform="translate(870.0,664.9) rotate(353.30)"/>
<path d="M658.6,621 L658.6,709.5 M770.6,621 L770.6,709.5 M670.5,736.9 L759.5,736.9" stroke="#000" stroke-width="2.6" stroke-linecap="round"/>
<rect x="642.7" y="656.5" width="31.8" height="16.6" fill="#f0f0f0" stroke="#3d4d57" stroke-width="1"/><rect x="643.2" y="661.5" width="30.8" height="5.9" fill="#fff"/><rect x="672.5" y="657" width="1.5" height="15.6" fill="#c8cdd0"/><path d="M642.7,661.5 L674.5,661.5 M642.7,667.4 L674.5,667.4" stroke="#55656e" stroke-width="1"/><path d="M642.7,664.5 L674.5,664.5" stroke="#8a7e7e" stroke-width="0.9"/>
<rect x="754.7" y="656.5" width="31.8" height="16.6" fill="#f0f0f0" stroke="#3d4d57" stroke-width="1"/><rect x="755.2" y="661.5" width="30.8" height="5.9" fill="#fff"/><rect x="784.5" y="657" width="1.5" height="15.6" fill="#c8cdd0"/><path d="M754.7,661.5 L786.5,661.5 M754.7,667.4 L786.5,667.4" stroke="#55656e" stroke-width="1"/><path d="M754.7,664.5 L786.5,664.5" stroke="#8a7e7e" stroke-width="0.9"/>
<rect x="706.7" y="720.7" width="16.7" height="32.5" fill="#f0f0f0" stroke="#3d4d57" stroke-width="1"/>
<rect x="712.2" y="721.2" width="6.2" height="31.5" fill="#fff"/>
<path d="M712.2,720.7 L712.2,753.2 M718.4,720.7 L718.4,753.2" stroke="#55656e" stroke-width="1"/>
<path d="M715.4,720.7 L715.4,753.2" stroke="#8a7e7e" stroke-width="0.9"/>
<g transform="translate(515,433.2) rotate(90)"><rect x="-58.6" y="-5.7" width="4.6" height="11.4" rx="1" fill="#666" stroke="#333" stroke-width="0.8"/><path d="M-54.4,-8.1 Q-54.4,-8.7 -53.8,-8.7 L-46.2,-8.7 L-42.6,-13.1 Q-42.2,-13.7 -41.6,-13.7 L-0.6,-13.7 Q0,-13.7 0,-13.1 L0,13.1 Q0,13.7 -0.6,13.7 L-41.6,13.7 Q-42.2,13.7 -42.6,13.1 L-46.2,8.7 L-53.8,8.7 Q-54.4,8.7 -54.4,8.1 Z" fill="#666" stroke="#333" stroke-width="0.8"/><rect x="-40.4" y="-8.8" width="35.3" height="17.5" rx="0.8" fill="#666" stroke="#333" stroke-width="0.8"/><rect x="0.2" y="-9.8" width="3.4" height="19.5" fill="#ddd" stroke="#777" stroke-width="0.6"/><circle cx="-34.3" cy="0" r="2.6" fill="#000"/><path d="M-34.3,0 L-11.5,0 M-28.2,0 L-23.3,-4.8 L-19.5,-4.8 M-24.7,0 L-19.2,4.8 L-16.2,4.8" fill="none" stroke="#000" stroke-width="0.8"/><circle cx="-18.9" cy="-4.8" r="1.35" fill="#000"/><rect x="-16.6" y="3.5" width="2.6" height="2.6" rx="0.5" fill="#000"/><path d="M-12.3,-1.4 L-9.4,0 L-12.3,1.4 Z" fill="#000"/></g>
<g fill="none" stroke="#333" stroke-width="0.9"><path d="M134.60,523.30 C135.42,521.17 137.80,514.67 139.50,510.50 C141.20,506.33 143.22,501.78 144.80,498.30 C146.38,494.82 147.67,492.23 149.00,489.60 C150.33,486.97 152.17,483.68 152.80,482.50 A110.5,110.5 0 0 1 330.80,482.5 C331.43,483.68 333.27,486.97 334.60,489.60 C335.93,492.23 337.22,494.82 338.80,498.30 C340.38,501.78 342.40,506.33 344.10,510.50 C345.80,514.67 348.18,521.17 349.00,523.30 "/><path d="M135.30,538.30 C135.45,537.30 135.33,535.85 136.20,532.30 C137.07,528.75 139.03,521.33 140.50,517.00 C141.97,512.67 143.45,509.75 145.00,506.30 C146.55,502.85 148.28,499.38 149.80,496.30 C151.32,493.22 153.38,489.22 154.10,487.80 A113.5,113.5 0 0 1 329.50,487.8 C330.22,489.22 332.28,493.22 333.80,496.30 C335.32,499.38 337.05,502.85 338.60,506.30 C340.15,509.75 341.63,512.67 343.10,517.00 C344.57,521.33 346.53,528.75 347.40,532.30 C348.27,535.85 348.15,537.30 348.30,538.30 "/><path d="M135.3,538.3 C136,541.5 138,542.6 140.2,542.6 C144.5,542.6 148.5,539 150.2,533 L151.8,526.8 A91.3,78 0 0 1 331.80,526.8 L333.40,533 C335.10,539 339.10,542.6 343.40,542.6 C345.60,542.6 347.60,541.5 348.30,538.3"/><path d="M152.80,482.50 C153.05,483.47 153.40,486.62 154.30,488.30 C155.20,489.98 156.18,491.10 158.20,492.60 C160.22,494.10 165.03,496.52 166.40,497.30 "/><path d="M317.20,497.30 C318.57,496.52 323.38,494.10 325.40,492.60 C327.42,491.10 328.40,489.98 329.30,488.30 C330.20,486.62 330.55,483.47 330.80,482.50 "/><path d="M134.60,521.80 C134.38,522.10 133.70,522.23 133.30,523.60 C132.90,524.97 132.65,527.27 132.20,530.00 C131.75,532.73 131.17,536.67 130.60,540.00 C130.03,543.33 129.13,547.50 128.80,550.00 C128.47,552.50 128.63,554.17 128.60,555.00 "/><path d="M355.00,555.00 C354.97,554.17 355.13,552.50 354.80,550.00 C354.47,547.50 353.57,543.33 353.00,540.00 C352.43,536.67 351.85,532.73 351.40,530.00 C350.95,527.27 350.70,524.97 350.30,523.60 C349.90,522.23 349.22,522.10 349.00,521.80 "/><path d="M151.20,524.30 C151.40,524.75 152.40,525.22 152.40,527.00 C152.40,528.78 151.68,532.33 151.20,535.00 C150.72,537.67 150.03,540.25 149.50,543.00 C148.97,545.75 148.25,550.08 148.00,551.50 "/><path d="M335.60,551.50 C335.35,550.08 334.63,545.75 334.10,543.00 C333.57,540.25 332.88,537.67 332.40,535.00 C331.92,532.33 331.20,528.78 331.20,527.00 C331.20,525.22 332.20,524.75 332.40,524.30 "/><path d="M129.4,549.0 L134.5,545.4 Q138.5,543.2 141.5,543.6 L148.1,549.0"/><path d="M129.4,549.0 L134.5,545.4 Q138.5,543.2 141.5,543.6 L148.1,549.0" transform="translate(483.6,0) scale(-1,1)"/><path d="M134.7,523.0 C135.6,523.6 135.4,526 135.0,528.5 L133.9,535.8"/><path d="M134.7,523.0 C135.6,523.6 135.4,526 135.0,528.5 L133.9,535.8" transform="translate(483.6,0) scale(-1,1)"/><path d="M151.2,524.3 C150.2,525.4 150.4,527.5 150.6,529.5 L150.3,532.5"/><path d="M151.2,524.3 C150.2,525.4 150.4,527.5 150.6,529.5 L150.3,532.5" transform="translate(483.6,0) scale(-1,1)"/><path d="M130.10,561.30 C130.58,563.58 131.93,570.22 133.00,575.00 C134.07,579.78 135.42,584.67 136.50,590.00 C137.58,595.33 138.63,602.17 139.50,607.00 C140.37,611.83 141.02,616.42 141.70,619.00 C142.38,621.58 142.80,621.73 143.60,622.50 C144.40,623.27 145.50,623.58 146.50,623.60 C147.50,623.62 148.75,623.20 149.60,622.60 C150.45,622.00 151.22,620.85 151.60,620.00 C151.98,619.15 152.25,619.83 151.90,617.50 C151.55,615.17 150.40,610.08 149.50,606.00 C148.60,601.92 147.42,597.33 146.50,593.00 C145.58,588.67 144.60,583.37 144.00,580.00 C143.40,576.63 143.15,574.88 142.90,572.80 C142.65,570.72 142.28,569.38 142.50,567.50 C142.72,565.62 143.92,562.50 144.20,561.50 "/><path d="M339.40,561.50 C339.68,562.50 340.88,565.62 341.10,567.50 C341.32,569.38 340.95,570.72 340.70,572.80 C340.45,574.88 340.20,576.63 339.60,580.00 C339.00,583.37 338.02,588.67 337.10,593.00 C336.18,597.33 335.00,601.92 334.10,606.00 C333.20,610.08 332.05,615.17 331.70,617.50 C331.35,619.83 331.62,619.15 332.00,620.00 C332.38,620.85 333.15,622.00 334.00,622.60 C334.85,623.20 336.10,623.62 337.10,623.60 C338.10,623.58 339.20,623.27 340.00,622.50 C340.80,621.73 341.22,621.58 341.90,619.00 C342.58,616.42 343.23,611.83 344.10,607.00 C344.97,602.17 346.02,595.33 347.10,590.00 C348.18,584.67 349.53,579.78 350.60,575.00 C351.67,570.22 353.02,563.58 353.50,561.30 "/><path d="M142.90,572.90 C144.25,572.90 148.08,572.85 151.00,572.90 C153.92,572.95 158.83,573.15 160.40,573.20 "/><path d="M323.20,573.20 C324.77,573.15 329.68,572.95 332.60,572.90 C335.52,572.85 339.35,572.90 340.70,572.90 "/><path d="M138.30,600.50 C138.08,601.00 137.28,602.25 137.00,603.50 C136.72,604.75 136.63,605.25 136.60,608.00 C136.57,610.75 136.70,614.78 136.80,620.00 C136.90,625.22 136.72,635.30 137.20,639.30 C137.68,643.30 138.32,642.82 139.70,644.00 C141.08,645.18 143.45,645.92 145.50,646.40 C147.55,646.88 150.35,646.73 152.00,646.90 C153.65,647.07 154.58,646.97 155.40,647.40 C156.22,647.83 156.65,649.15 156.90,649.50 "/><path d="M326.70,649.50 C326.95,649.15 327.38,647.83 328.20,647.40 C329.02,646.97 329.95,647.07 331.60,646.90 C333.25,646.73 336.05,646.88 338.10,646.40 C340.15,645.92 342.52,645.18 343.90,644.00 C345.28,642.82 345.92,643.30 346.40,639.30 C346.88,635.30 346.70,625.22 346.80,620.00 C346.90,614.78 347.03,610.75 347.00,608.00 C346.97,605.25 346.88,604.75 346.60,603.50 C346.32,602.25 345.52,601.00 345.30,600.50 "/><path d="M151.60,612.00 L156.20,612.00 L156.20,626.00 L150.00,625.20 Q147.5,624.8 146.3,623.6"/><path d="M332.00,612.00 L327.40,612.00 L327.40,626.00 L333.60,625.20 Q336.10,624.8 337.30,623.6"/><path d="M168.50,559.30 C169.67,559.03 170.85,559.20 172.00,559.20 C173.15,559.20 174.48,559.27 175.40,559.30 C176.32,559.33 176.67,559.43 177.50,559.40 C178.33,559.37 179.40,558.73 180.40,559.10 C181.40,559.47 182.48,561.07 183.50,561.60 C184.52,562.13 185.42,562.10 186.50,562.30 C187.58,562.50 188.85,562.18 190.00,562.80 C191.15,563.42 192.65,564.72 193.40,566.00 C194.15,567.28 194.48,568.60 194.50,570.50 C194.52,572.40 193.87,574.07 193.50,577.40 C193.13,580.73 192.65,584.73 192.30,590.50 C191.95,596.27 191.65,604.58 191.40,612.00 C191.15,619.42 190.97,629.18 190.80,635.00 C190.63,640.82 190.78,643.50 190.40,646.90 C190.02,650.30 189.47,653.35 188.50,655.40 C187.53,657.45 186.40,658.33 184.60,659.20 C182.80,660.07 179.38,659.97 177.70,660.60 C176.02,661.23 175.62,662.63 174.50,663.00 C173.38,663.37 172.27,662.92 171.00,662.80 C169.73,662.68 168.35,662.53 166.90,662.30 C165.45,662.07 163.45,662.17 162.30,661.40 C161.15,660.63 160.77,659.35 160.00,657.70 C159.23,656.05 158.33,653.62 157.70,651.50 C157.07,649.38 156.48,648.58 156.20,645.00 C155.92,641.42 156.00,635.50 156.00,630.00 C156.00,624.50 156.02,617.25 156.20,612.00 C156.38,606.75 156.70,602.73 157.10,598.50 C157.50,594.27 158.02,590.77 158.60,586.60 C159.18,582.43 159.92,576.97 160.60,573.50 C161.28,570.03 161.97,567.92 162.70,565.80 C163.43,563.68 164.03,561.88 165.00,560.80 C165.97,559.72 167.33,559.57 168.50,559.30 Z"/><path d="M318.60,560.80 C319.57,561.88 320.17,563.68 320.90,565.80 C321.63,567.92 322.32,570.03 323.00,573.50 C323.68,576.97 324.42,582.43 325.00,586.60 C325.58,590.77 326.10,594.27 326.50,598.50 C326.90,602.73 327.22,606.75 327.40,612.00 C327.58,617.25 327.60,624.50 327.60,630.00 C327.60,635.50 327.68,641.42 327.40,645.00 C327.12,648.58 326.53,649.38 325.90,651.50 C325.27,653.62 324.37,656.05 323.60,657.70 C322.83,659.35 322.45,660.63 321.30,661.40 C320.15,662.17 318.15,662.07 316.70,662.30 C315.25,662.53 313.87,662.68 312.60,662.80 C311.33,662.92 310.22,663.37 309.10,663.00 C307.98,662.63 307.58,661.23 305.90,660.60 C304.22,659.97 300.80,660.07 299.00,659.20 C297.20,658.33 296.07,657.45 295.10,655.40 C294.13,653.35 293.58,650.30 293.20,646.90 C292.82,643.50 292.97,640.82 292.80,635.00 C292.63,629.18 292.45,619.42 292.20,612.00 C291.95,604.58 291.65,596.27 291.30,590.50 C290.95,584.73 290.47,580.73 290.10,577.40 C289.73,574.07 289.08,572.40 289.10,570.50 C289.12,568.60 289.45,567.28 290.20,566.00 C290.95,564.72 292.45,563.42 293.60,562.80 C294.75,562.18 296.02,562.50 297.10,562.30 C298.18,562.10 299.08,562.13 300.10,561.60 C301.12,561.07 302.20,559.47 303.20,559.10 C304.20,558.73 305.27,559.37 306.10,559.40 C306.93,559.43 307.28,559.33 308.20,559.30 C309.12,559.27 310.45,559.20 311.60,559.20 C312.75,559.20 313.93,559.03 315.10,559.30 C316.27,559.57 317.63,559.72 318.60,560.80 Z"/><path d="M169.60,559.50 C169.25,559.83 168.23,560.18 167.50,561.50 C166.77,562.82 166.00,563.85 165.20,567.40 C164.40,570.95 163.45,577.37 162.70,582.80 C161.95,588.23 161.15,594.63 160.70,600.00 C160.25,605.37 160.12,608.33 160.00,615.00 C159.88,621.67 159.97,632.88 160.00,640.00 C160.03,647.12 159.82,654.13 160.20,657.70 C160.58,661.27 161.95,660.78 162.30,661.40 "/><path d="M321.30,661.40 C321.65,660.78 323.02,661.27 323.40,657.70 C323.78,654.13 323.57,647.12 323.60,640.00 C323.63,632.88 323.72,621.67 323.60,615.00 C323.48,608.33 323.35,605.37 322.90,600.00 C322.45,594.63 321.65,588.23 320.90,582.80 C320.15,577.37 319.20,570.95 318.40,567.40 C317.60,563.85 316.83,562.82 316.10,561.50 C315.37,560.18 314.35,559.83 314.00,559.50 "/><path d="M175.40,559.30 C175.02,560.38 173.93,562.78 173.10,565.80 C172.27,568.82 171.17,573.28 170.40,577.40 C169.63,581.52 169.02,584.73 168.50,590.50 C167.98,596.27 167.58,604.58 167.30,612.00 C167.02,619.42 166.92,627.63 166.80,635.00 C166.68,642.37 166.20,651.90 166.60,656.20 C167.00,660.50 167.88,659.67 169.20,660.80 C170.52,661.93 173.62,662.63 174.50,663.00 "/><path d="M309.10,663.00 C309.98,662.63 313.08,661.93 314.40,660.80 C315.72,659.67 316.60,660.50 317.00,656.20 C317.40,651.90 316.92,642.37 316.80,635.00 C316.68,627.63 316.58,619.42 316.30,612.00 C316.02,604.58 315.62,596.27 315.10,590.50 C314.58,584.73 313.97,581.52 313.20,577.40 C312.43,573.28 311.33,568.82 310.50,565.80 C309.67,562.78 308.58,560.38 308.20,559.30 "/><path d="M183.50,561.60 C183.17,562.57 182.32,564.77 181.50,567.40 C180.68,570.03 179.42,573.82 178.60,577.40 C177.78,580.98 177.12,583.13 176.60,588.90 C176.08,594.67 175.72,604.32 175.50,612.00 C175.28,619.68 175.30,627.63 175.30,635.00 C175.30,642.37 175.10,651.93 175.50,656.20 C175.90,660.47 177.33,659.87 177.70,660.60 "/><path d="M305.90,660.60 C306.27,659.87 307.70,660.47 308.10,656.20 C308.50,651.93 308.30,642.37 308.30,635.00 C308.30,627.63 308.32,619.68 308.10,612.00 C307.88,604.32 307.52,594.67 307.00,588.90 C306.48,583.13 305.82,580.98 305.00,577.40 C304.18,573.82 302.92,570.03 302.10,567.40 C301.28,564.77 300.43,562.57 300.10,561.60 "/><circle cx="138.10" cy="554.1" r="9.5"/><circle cx="138.10" cy="554.1" r="7.05"/><circle cx="345.50" cy="554.1" r="9.5"/><circle cx="345.50" cy="554.1" r="7.05"/></g><path d="M332.2,646.4 L339.8,646.4 L338.8,661.5 L336.6,661.5 L335.5,662.8 L334.4,661.5 L332.8,661.5 Z" fill="#fff" stroke="#3d4f5a" stroke-width="1"/>
</svg></body></html>
